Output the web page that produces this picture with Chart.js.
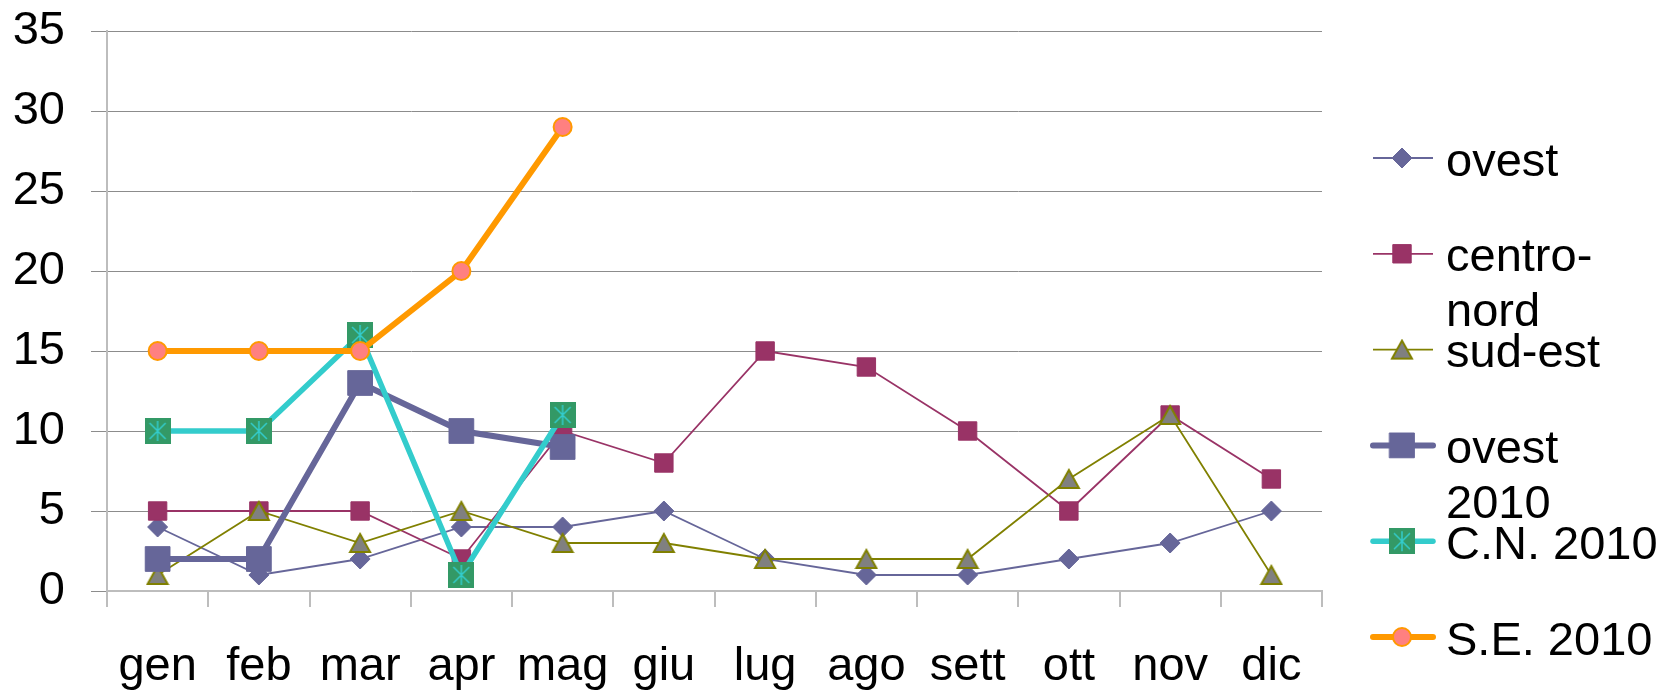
<!DOCTYPE html>
<html lang="it">
<head>
<meta charset="utf-8">
<title>Andamento mensile</title>
<script src="https://cdn.jsdelivr.net/npm/chart.js@4/dist/chart.umd.min.js"></script>
<style>
  html, body { margin: 0; padding: 0; background: #fff; }
  #wrap { width: 1663px; height: 694px; }
</style>
</head>
<body>
<div id="wrap"><canvas id="chart" width="1663" height="694"></canvas></div>
<script>
"use strict";

// mesi
const months = ["gen", "feb", "mar", "apr", "mag", "giu", "lug", "ago", "sett", "ott", "nov", "dic"];

// serie
const ovest = [4, 1, 2, 4, 4, 5, 2, 1, 1, 2, 3, 5];
const centroNord = [5, 5, 5, 2, 10, 8, 15, 14, 10, 5, 11, 7];
const sudEst = [1, 5, 3, 5, 3, 3, 2, 2, 2, 7, 11, 1];
const ovest2010 = [2, 2, 13, 10, 9];
const cn2010 = [10, 10, 16, 1, 11];
const se2010 = [15, 15, 15, 20, 29];

// etichette legenda (a capo come nell'originale)
const legendLabels = [["ovest"], ["centro-", "nord"], ["sud-est"], ["ovest", "2010"], ["C.N. 2010"], ["S.E. 2010"]];

// asse y
const yMin = 0;
const yMax = 35;
const yStep = 5;

const FONT = "'Liberation Sans', Arial, sans-serif";
const FONT_SIZE = 47;

/**
 * Triangolo grigio con bordo oliva, centrato sul punto.
 */
function triangleMarker() {
  const c = document.createElement("canvas");
  c.width = 24;
  c.height = 22;
  const ctx = c.getContext("2d");
  ctx.beginPath();
  ctx.moveTo(2, 20);
  ctx.lineTo(12, 2);
  ctx.lineTo(22, 20);
  ctx.closePath();
  ctx.fillStyle = "#808080";
  ctx.fill();
  ctx.lineWidth = 2;
  ctx.strokeStyle = "#808000";
  ctx.stroke();
  return c;
}

/**
 * Quadrato verde con asterisco azzurro.
 */
function starSquareMarker() {
  const c = document.createElement("canvas");
  c.width = 26;
  c.height = 26;
  const ctx = c.getContext("2d");
  ctx.fillStyle = "#339966";
  ctx.fillRect(0, 0, 26, 26);
  ctx.strokeStyle = "#33CCCC";
  ctx.lineWidth = 1.5;
  ctx.beginPath();
  ctx.moveTo(13, 3);
  ctx.lineTo(13, 23);
  ctx.moveTo(5, 5);
  ctx.lineTo(21, 21);
  ctx.moveTo(21, 5);
  ctx.lineTo(5, 21);
  ctx.stroke();
  return c;
}

const triangle = triangleMarker();
const starSquare = starSquareMarker();

const datasets = [
  {
    label: "ovest", data: ovest,
    borderColor: "#666699", borderWidth: 1.8,
    pointStyle: "rectRot", pointRadius: 10,
    pointBackgroundColor: "#666699", pointBorderColor: "#666699", pointBorderWidth: 1,
  },
  {
    label: "centro-nord", data: centroNord,
    borderColor: "#993366", borderWidth: 1.8,
    pointStyle: "rect", pointRadius: 13,
    pointBackgroundColor: "#993366", pointBorderColor: "#993366", pointBorderWidth: 1,
  },
  {
    label: "sud-est", data: sudEst,
    borderColor: "#808000", borderWidth: 1.8,
    pointStyle: triangle, pointRadius: 11,
    pointBackgroundColor: "#808080", pointBorderColor: "#808000", pointBorderWidth: 2,
  },
  {
    label: "ovest 2010", data: ovest2010,
    borderColor: "#666699", borderWidth: 6,
    pointStyle: "rect", pointRadius: 17.5,
    pointBackgroundColor: "#666699", pointBorderColor: "#666699", pointBorderWidth: 1,
  },
  {
    label: "C.N. 2010", data: cn2010,
    borderColor: "#33CCCC", borderWidth: 5.5,
    pointStyle: starSquare, pointRadius: 13,
    pointBackgroundColor: "#339966", pointBorderColor: "#339966", pointBorderWidth: 0,
  },
  {
    label: "S.E. 2010", data: se2010,
    borderColor: "#FF9900", borderWidth: 6,
    pointStyle: "circle", pointRadius: 9,
    pointBackgroundColor: "#FF8080", pointBorderColor: "#FF9900", pointBorderWidth: 2,
  },
];

// come in Excel: le serie successive stanno sopra
datasets.forEach((ds, i) => {
  ds.order = datasets.length - i;
  ds.tension = 0;
  ds.fill = false;
});

/**
 * Legenda a destra disegnata a mano, con i segni della libreria.
 */
const sideLegend = {
  id: "sideLegend",
  afterDraw(chart) {
    const ctx = chart.ctx;
    const lineX0 = 1373;
    const lineX1 = 1433;
    const markX = 1402;
    const textX = 1446;
    const top = 158;
    const step = 95.8;

    ctx.save();
    chart.data.datasets.forEach((ds, i) => {
      const y = top + i * step;
      ctx.beginPath();
      ctx.lineCap = ds.borderWidth > 3 ? "round" : "butt";
      ctx.lineWidth = ds.borderWidth;
      ctx.strokeStyle = ds.borderColor;
      ctx.moveTo(lineX0, y);
      ctx.lineTo(lineX1, y);
      ctx.stroke();

      ctx.fillStyle = ds.pointBackgroundColor;
      ctx.strokeStyle = ds.pointBorderColor;
      ctx.lineWidth = ds.pointBorderWidth;
      Chart.helpers.drawPoint(ctx, {
        pointStyle: ds.pointStyle,
        radius: ds.pointRadius,
        rotation: 0,
        borderWidth: ds.pointBorderWidth,
      }, markX, y);

      ctx.fillStyle = "#000";
      ctx.font = FONT_SIZE + "px " + FONT;
      ctx.textAlign = "left";
      ctx.textBaseline = "alphabetic";
      legendLabels[i].forEach((line, k) => {
        ctx.fillText(line, textX, y + 17.5 + k * 55);
      });
    });
    ctx.restore();
  },
};

new Chart(document.querySelector("#chart"), {
  type: "line",
  data: { labels: months, datasets: datasets },
  options: {
    responsive: false,
    animation: false,
    events: [],
    layout: { padding: { top: 31, right: 341, left: 0, bottom: 0 } },
    plugins: {
      legend: { display: false },
      tooltip: { enabled: false },
    },
    scales: {
      x: {
        offset: true,
        afterFit: (scale) => {
          scale.height = 103;
          scale.paddingLeft = 0;
          scale.paddingRight = 0;
        },
        grid: {
          offset: true,
          drawOnChartArea: false,
          drawTicks: true,
          tickLength: 16,
          color: "#bdbdbd",
          lineWidth: 2,
        },
        border: { color: "#bdbdbd", width: 2 },
        ticks: {
          color: "#000",
          padding: 32,
          maxRotation: 0,
          autoSkip: false,
          font: { family: FONT, size: FONT_SIZE, lineHeight: 1.2 },
        },
      },
      y: {
        min: yMin,
        max: yMax,
        afterFit: (scale) => {
          scale.width = 107;
          scale.paddingTop = 0;
          scale.paddingBottom = 0;
        },
        grid: {
          color: "#8c8c8c",
          lineWidth: 1,
          drawTicks: true,
          tickLength: 16,
        },
        border: { color: "#bdbdbd", width: 2 },
        ticks: {
          stepSize: yStep,
          color: "#000",
          padding: 26,
          font: { family: FONT, size: FONT_SIZE, lineHeight: 1.2 },
        },
      },
    },
  },
  plugins: [sideLegend],
});
</script>
</body>
</html>
